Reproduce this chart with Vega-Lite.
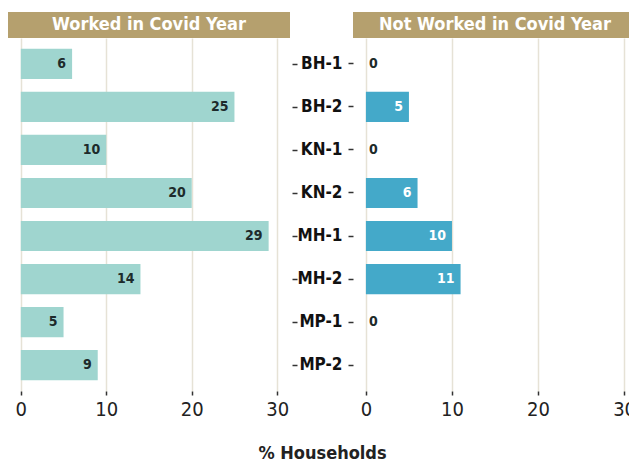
{
  "$schema": "https://vega.github.io/schema/vega-lite/v6.json",
  "padding": {"left": 8, "top": 12, "right": 0, "bottom": 5},
  "background": "white",
  "config": {
    "font": "DejaVu Sans Condensed",
    "view": {"stroke": null}
  },
  "datasets": {
    "worked": [
      {"region": "BH-1", "value": 6},
      {"region": "BH-2", "value": 25},
      {"region": "KN-1", "value": 10},
      {"region": "KN-2", "value": 20},
      {"region": "MH-1", "value": 29},
      {"region": "MH-2", "value": 14},
      {"region": "MP-1", "value": 5},
      {"region": "MP-2", "value": 9}
    ],
    "notworked": [
      {"region": "BH-1", "value": 0},
      {"region": "BH-2", "value": 5},
      {"region": "KN-1", "value": 0},
      {"region": "KN-2", "value": 6},
      {"region": "MH-1", "value": 10},
      {"region": "MH-2", "value": 11},
      {"region": "MP-1", "value": 0}
    ],
    "strips": [
      {"panel": "Worked in Covid Year"},
      {"panel": "Not Worked in Covid Year"}
    ]
  },
  "title": {
    "text": "% Households",
    "orient": "bottom",
    "anchor": "middle",
    "fontSize": 18,
    "fontWeight": "bold",
    "color": "#222222",
    "offset": 26,
    "font": "DejaVu Sans Condensed"
  },
  "columns": 2,
  "bounds": "flush",
  "spacing": {"row": 0, "column": 63},
  "concat": [
    {
      "width": 282,
      "height": 26,
      "view": {"fill": "#b5a06e", "stroke": null},
      "data": {"name": "strips"},
      "transform": [{"filter": "datum.panel == 'Worked in Covid Year'"}],
      "mark": {"type": "text", "color": "white", "fontSize": 18, "fontWeight": "bold", "baseline": "middle"},
      "encoding": {"text": {"field": "panel"}}
    },
    {
      "width": 284,
      "height": 26,
      "view": {"fill": "#b5a06e", "stroke": null},
      "data": {"name": "strips"},
      "transform": [{"filter": "datum.panel == 'Not Worked in Covid Year'"}],
      "mark": {"type": "text", "color": "white", "fontSize": 18, "fontWeight": "bold", "baseline": "middle"},
      "encoding": {"text": {"field": "panel"}}
    },
    {
      "width": 282,
      "height": 353,
      "data": {"name": "worked"},
      "encoding": {
        "y": {
          "field": "region", "type": "nominal", "sort": null,
          "scale": {"paddingInner": 0.3, "paddingOuter": 0.25},
          "axis": {"orient": "right", "labels": false, "title": null, "domain": false, "ticks": true, "tickColor": "#333333", "tickSize": 5, "tickWidth": 1.5, "tickOffset": 0, "offset": 2}
        },
        "x": {
          "field": "value", "type": "quantitative",
          "scale": {"domain": [-1.5, 31.5], "nice": false, "zero": false},
          "axis": {"values": [0, 10, 20, 30], "title": null, "domain": false, "grid": true, "gridColor": "#e6e2d6", "gridWidth": 1.5, "tickColor": "#333333", "tickSize": 4, "tickWidth": 1.5, "labelFontSize": 20, "labelColor": "#222222", "labelPadding": 4}
        }
      },
      "layer": [
        {"mark": {"type": "bar", "color": "#9fd5cf"}, "encoding": {"x": {"datum": 0}, "x2": {"field": "value"}}},
        {"mark": {"type": "text", "align": "right", "dx": -6, "fontSize": 14, "fontWeight": "bold", "color": "#1d2b2b"}, "encoding": {"text": {"field": "value"}}}
      ]
    },
    {
      "width": 284,
      "height": 353,
      "data": {"name": "notworked"},
      "encoding": {
        "y": {
          "field": "region", "type": "nominal",
          "scale": {"domain": ["BH-1", "BH-2", "KN-1", "KN-2", "MH-1", "MH-2", "MP-1", "MP-2"], "paddingInner": 0.3, "paddingOuter": 0.25},
          "axis": {"orient": "left", "title": null, "domain": false, "ticks": true, "tickColor": "#333333", "tickSize": 5, "tickWidth": 1.5, "labelFontSize": 17, "labelFontWeight": "bold", "labelColor": "#111111", "labelPadding": 6}
        },
        "x": {
          "field": "value", "type": "quantitative",
          "scale": {"domain": [-1.5, 31.5], "nice": false, "zero": false},
          "axis": {"values": [0, 10, 20, 30], "title": null, "domain": false, "grid": true, "gridColor": "#e6e2d6", "gridWidth": 1.5, "tickColor": "#333333", "tickSize": 4, "tickWidth": 1.5, "labelFontSize": 20, "labelColor": "#222222", "labelPadding": 4}
        }
      },
      "layer": [
        {"mark": {"type": "bar", "color": "#44a9c9"}, "encoding": {"x": {"datum": 0}, "x2": {"field": "value"}}},
        {"transform": [{"filter": "datum.value > 0"}], "mark": {"type": "text", "align": "right", "dx": -6, "fontSize": 14, "fontWeight": "bold", "color": "white"}, "encoding": {"text": {"field": "value"}}},
        {"transform": [{"filter": "datum.value == 0"}], "mark": {"type": "text", "align": "left", "dx": 3, "fontSize": 14, "fontWeight": "bold", "color": "#1d2b2b"}, "encoding": {"text": {"field": "value"}}}
      ]
    }
  ]
}
